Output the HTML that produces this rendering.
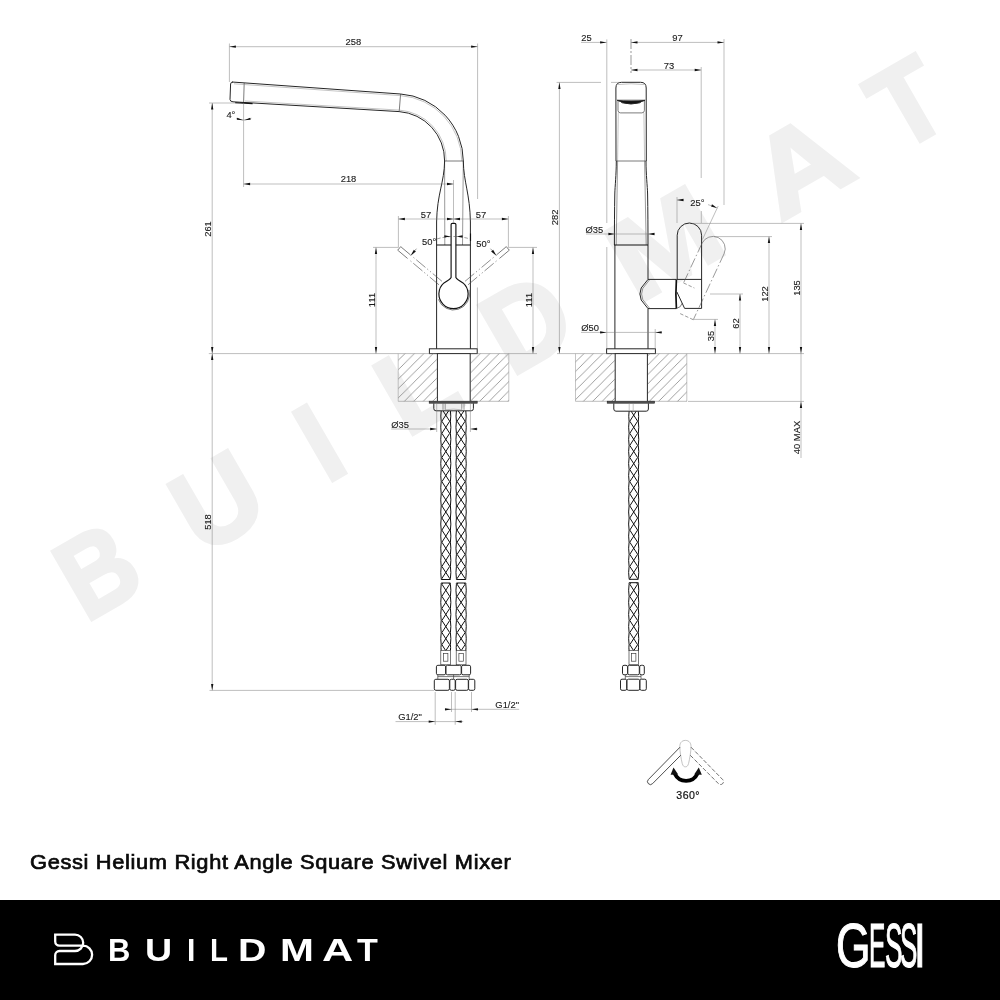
<!DOCTYPE html>
<html lang="en"><head><meta charset="utf-8"><title>Gessi Helium Right Angle Square Swivel Mixer</title>
<style>
html,body{margin:0;padding:0;background:#fff;}
body{width:1000px;height:1000px;position:relative;overflow:hidden;font-family:"Liberation Sans",sans-serif;}
svg{position:absolute;left:0;top:0;will-change:transform;}
.o{fill:none;stroke:#262626;stroke-width:1.0;}
.o2{fill:none;stroke:#333;stroke-width:0.65;}
.ok{fill:none;stroke:#111;stroke-width:1.15;stroke-linejoin:round;}
.t{fill:none;stroke:#7c7c7c;stroke-width:0.5;}
.t2{fill:none;stroke:#8a8a8a;stroke-width:0.5;}
.t3{fill:none;stroke:#555;stroke-width:0.6;}
.ph{fill:none;stroke:#444;stroke-width:0.6;stroke-dasharray:12 2.4 1.2 2.4 1.2 2.4;}
.ph2{fill:none;stroke:#555;stroke-width:0.6;stroke-dasharray:10 2.5 1.5 2.5;}
.dsh{fill:none;stroke:#555;stroke-width:0.6;stroke-dasharray:3.5 2;}
.dot{fill:none;stroke:#888;stroke-width:0.5;stroke-dasharray:1 1.2;}
.cl{fill:none;stroke:#555;stroke-width:0.6;stroke-dasharray:10 2 2 2;}
.a{fill:#111;stroke:none;}
.br{fill:none;stroke:#111;stroke-width:1.0;stroke-linejoin:round;}
.d{font-family:"Liberation Sans",sans-serif;font-size:9.4px;fill:#1a1a1a;stroke:#1a1a1a;stroke-width:0.12;}
.d2{font-family:"Liberation Sans",sans-serif;font-size:10.6px;fill:#111;letter-spacing:0.45px;stroke:#111;stroke-width:0.2;}
.wm text{font-family:"Liberation Sans",sans-serif;font-weight:bold;font-size:100px;fill:#f0f0f0;stroke:#f0f0f0;stroke-width:3.5;stroke-linejoin:miter;}
.ic{fill:none;stroke:#222;stroke-width:0.8;}
.ic2{fill:none;stroke:#aaa;stroke-width:0.7;}
.icd{fill:none;stroke:#333;stroke-width:0.7;stroke-dasharray:4.2 1.8;}
.thick{fill:none;stroke:#000;stroke-width:3.8;}
.title{will-change:transform;position:absolute;left:29.6px;top:850.2px;font-size:20.6px;line-height:23px;letter-spacing:0.62px;color:#0a0a0a;-webkit-text-stroke:0.7px #0a0a0a;white-space:nowrap;transform-origin:0 0;transform:scaleX(1.06);}
.footer{position:absolute;left:0;top:900px;width:1000px;height:100px;background:#000;}

.bm,.gs{will-change:transform;position:absolute;white-space:nowrap;color:#fff;line-height:1;font-family:"Liberation Sans",sans-serif;}
.bm span,.gs span{display:inline-block;transform-origin:0 50%;}
.bm{top:35.0px;font-size:30.5px;font-weight:bold;}
.gs{top:13.5px;font-size:63.4px;-webkit-text-stroke:1.2px #fff;}
</style></head><body>
<svg width="1000" height="900" viewBox="0 0 1000 900">
<defs>
<pattern id="hatch" patternUnits="userSpaceOnUse" width="9.42" height="9.42" patternTransform="translate(398.2 350.9)">
<path d="M-1,10.42 L10.42,-1 M-1,1 L1,-1 M8.42,10.42 L10.42,8.42" stroke="#777" stroke-width="0.7" fill="none"/></pattern>
</defs>
<g transform="translate(91.5,621.8) rotate(-30)" class="wm">
<text transform="translate(-5.23,-1.99) scale(0.997,1.138)" x="0" y="0">B</text>
<text transform="translate(128.27,-1.99) scale(1.135,1.138)" x="0" y="0">U</text>
<text transform="translate(272.70,-1.99) scale(1.029,1.138)" x="0" y="0">I</text>
<text transform="translate(364.83,-1.99) scale(1.138,1.138)" x="0" y="0">L</text>
<text transform="translate(486.14,-1.99) scale(1.116,1.138)" x="0" y="0">D</text>
<text transform="translate(631.71,-1.99) scale(1.293,1.138)" x="0" y="0">M</text>
<text transform="translate(796.72,-1.99) scale(1.263,1.138)" x="0" y="0">A</text>
<text transform="translate(933.40,-1.99) scale(1.067,1.138)" x="0" y="0">T</text>
</g>
<path class="o" d="M232,82 L400.6,94 A67.5,67.5 0 0 1 463.3,161 M399.2,111.6 A49,49 0 0 1 444.6,161 M399.2,111.6 L233,101.8 Q230,101.6 230,99.5 L230.6,84 Q230.8,81.9 233,82.05" />
<path class="o2" d="M400.6,94 L399.2,111.6" />
<path class="o2" d="M244.2,83 L243.6,102.4" />
<path class="t2" d="M234,83.8 L400.4,95.6 A66,66 0 0 1 461.8,161" />
<path class="t2" d="M245,101 L399.3,110.1 A50.5,50.5 0 0 1 446.2,161" />
<path class="ok" d="M235.2,102.6 L252.6,103.6" />
<path class="o2" d="M444.6,161 L463.3,161" />
<path class="t3" d="M444.6,161 L444.8,245 M463.3,161 L462.5,245" />
<path class="o" d="M444.6,161 C444.4,182 437,194 436.6,222 L436.6,349 M463.3,161 C463.6,182 470,194 470.4,222 L470.4,349" />
<path class="ok" d="M436.6,245 L470.4,245" />
<path class="ok" d="M451.1,277.6 L451.1,224.6 Q451.1,223.3 452.4,223.3 L454.6,223.3 Q455.9,223.3 455.9,224.6 L455.9,277.6 Q457,279.8 463,282.9 A14.6,14.6 0 1 1 444,282.9 Q450,279.8 451.1,277.6 Z" style="fill:#fff"/>
<path class="o2" d="M468.95,289.86 A16,16 0 0 1 438.46,299.47" />
<line class="ph" x1="439.00" y1="284.83" x2="409.12" y2="259.77" />
<line class="o2" x1="407.59" y1="258.48" x2="398.78" y2="251.09" />
<line class="ph" x1="441.96" y1="281.31" x2="412.08" y2="256.24" />
<line class="o2" x1="410.55" y1="254.96" x2="401.74" y2="247.56" />
<path class="o2" d="M398.78,251.09 L397.71,250.19 L400.67,246.66 L401.74,247.56" />
<line class="ph" x1="465.04" y1="281.31" x2="494.92" y2="256.24" />
<line class="o2" x1="496.45" y1="254.96" x2="505.26" y2="247.56" />
<line class="ph" x1="468.00" y1="284.83" x2="497.88" y2="259.77" />
<line class="o2" x1="499.41" y1="258.48" x2="508.22" y2="251.09" />
<path class="o2" d="M505.26,247.56 L506.33,246.66 L509.29,250.19 L508.22,251.09" />
<path class="dsh" d="M437.17,238.87 A57.5,57.5 0 0 1 469.83,238.87" />
<polygon class="a" points="410.37,255.97 413.87,249.78 415.86,251.45"/>
<line class="t3" x1="414.87" y1="250.61" x2="416.48" y2="248.70" />
<polygon class="a" points="496.63,255.97 491.14,251.45 493.13,249.78"/>
<line class="t3" x1="492.13" y1="250.61" x2="490.52" y2="248.70" />
<polygon class="a" points="450.89,236.56 444.35,237.53 444.44,235.13"/>
<polygon class="a" points="456.11,236.56 462.56,235.13 462.65,237.53"/>
<path class="ok" d="M470.5,233.5 L470.5,241" />
<rect class="o" x="429.4" y="348.8" width="47.8" height="4.8" style="fill:#fff"/>
<rect x="398.2" y="353.6" width="38.60000000000002" height="47.69999999999999" fill="url(#hatch)"/>
<rect x="470.6" y="353.6" width="38.19999999999999" height="47.69999999999999" fill="url(#hatch)"/>
<line class="t2" x1="398.20" y1="353.60" x2="398.20" y2="401.30" />
<line class="t2" x1="508.80" y1="353.60" x2="508.80" y2="401.30" />
<line class="t" x1="398.20" y1="401.30" x2="436.80" y2="401.30" />
<line class="t" x1="470.60" y1="401.30" x2="508.80" y2="401.30" />
<line class="t" x1="398.20" y1="353.60" x2="436.80" y2="353.60" />
<line class="t" x1="470.60" y1="353.60" x2="508.80" y2="353.60" />
<path class="o" d="M437.4,353.6 L437.4,401.3 M470.2,353.6 L470.2,401.3" />
<rect x="429.2" y="401.2" width="48" height="2" fill="#555" stroke="#222" stroke-width="0.6"/>
<path class="o" d="M433.8,403.4 L433.8,408.6 Q433.8,410.8 436,410.8 L471.2,410.8 Q473.4,410.8 473.4,408.6 L473.4,403.4" />
<path class="t3" d="M443,403.4 V409.8 M445.2,403.4 V409.8 M461.8,403.4 V409.8 M464,403.4 V409.8" />
<path class="t2" d="M445.2,409.8 Q453.5,408.4 461.8,409.8" />
<polyline class="br" points="448.48,411.00 441.90,421.20 449.70,433.30 441.90,445.40 449.70,457.50 441.90,469.60 449.70,481.70 441.90,493.80 449.70,505.90 441.90,518.00 449.70,530.10 441.90,542.20 449.70,554.30 441.90,566.40 449.70,578.50 449.06,579.50"/>
<polyline class="br" points="443.12,411.00 449.70,421.20 441.90,433.30 449.70,445.40 441.90,457.50 449.70,469.60 441.90,481.70 449.70,493.80 441.90,505.90 449.70,518.00 441.90,530.10 449.70,542.20 441.90,554.30 449.70,566.40 441.90,578.50 442.54,579.50"/>
<path class="br" d="M441.20,411.00 Q440.44,416.10 441.20,421.20 Q440.30,427.25 441.20,433.30 Q440.30,439.35 441.20,445.40 Q440.30,451.45 441.20,457.50 Q440.30,463.55 441.20,469.60 Q440.30,475.65 441.20,481.70 Q440.30,487.75 441.20,493.80 Q440.30,499.85 441.20,505.90 Q440.30,511.95 441.20,518.00 Q440.30,524.05 441.20,530.10 Q440.30,536.15 441.20,542.20 Q440.30,548.25 441.20,554.30 Q440.30,560.35 441.20,566.40 Q440.30,572.45 441.20,578.50 Q441.13,579.00 441.20,579.50"/>
<path class="br" d="M450.40,411.00 Q451.16,416.10 450.40,421.20 Q451.30,427.25 450.40,433.30 Q451.30,439.35 450.40,445.40 Q451.30,451.45 450.40,457.50 Q451.30,463.55 450.40,469.60 Q451.30,475.65 450.40,481.70 Q451.30,487.75 450.40,493.80 Q451.30,499.85 450.40,505.90 Q451.30,511.95 450.40,518.00 Q451.30,524.05 450.40,530.10 Q451.30,536.15 450.40,542.20 Q451.30,548.25 450.40,554.30 Q451.30,560.35 450.40,566.40 Q451.30,572.45 450.40,578.50 Q450.47,579.00 450.40,579.50"/>
<polyline class="br" points="448.93,583.00 449.70,584.20 441.90,596.30 449.70,608.40 441.90,620.50 449.70,632.60 441.90,644.70 445.70,650.60"/>
<polyline class="br" points="442.67,583.00 441.90,584.20 449.70,596.30 441.90,608.40 449.70,620.50 441.90,632.60 449.70,644.70 445.90,650.60"/>
<path class="br" d="M441.20,583.00 Q441.11,583.60 441.20,584.20 Q440.30,590.25 441.20,596.30 Q440.30,602.35 441.20,608.40 Q440.30,614.45 441.20,620.50 Q440.30,626.55 441.20,632.60 Q440.30,638.65 441.20,644.70 Q440.76,647.65 441.20,650.60"/>
<path class="br" d="M450.40,583.00 Q450.49,583.60 450.40,584.20 Q451.30,590.25 450.40,596.30 Q451.30,602.35 450.40,608.40 Q451.30,614.45 450.40,620.50 Q451.30,626.55 450.40,632.60 Q451.30,638.65 450.40,644.70 Q450.84,647.65 450.40,650.60"/>
<line class="br" x1="441.20" y1="579.50" x2="450.40" y2="579.50" />
<line class="br" x1="441.20" y1="583.00" x2="450.40" y2="583.00" />
<polyline class="br" points="463.84,411.00 457.10,421.20 465.10,433.30 457.10,445.40 465.10,457.50 457.10,469.60 465.10,481.70 457.10,493.80 465.10,505.90 457.10,518.00 465.10,530.10 457.10,542.20 465.10,554.30 457.10,566.40 465.10,578.50 464.44,579.50"/>
<polyline class="br" points="458.36,411.00 465.10,421.20 457.10,433.30 465.10,445.40 457.10,457.50 465.10,469.60 457.10,481.70 465.10,493.80 457.10,505.90 465.10,518.00 457.10,530.10 465.10,542.20 457.10,554.30 465.10,566.40 457.10,578.50 457.76,579.50"/>
<path class="br" d="M456.40,411.00 Q455.64,416.10 456.40,421.20 Q455.50,427.25 456.40,433.30 Q455.50,439.35 456.40,445.40 Q455.50,451.45 456.40,457.50 Q455.50,463.55 456.40,469.60 Q455.50,475.65 456.40,481.70 Q455.50,487.75 456.40,493.80 Q455.50,499.85 456.40,505.90 Q455.50,511.95 456.40,518.00 Q455.50,524.05 456.40,530.10 Q455.50,536.15 456.40,542.20 Q455.50,548.25 456.40,554.30 Q455.50,560.35 456.40,566.40 Q455.50,572.45 456.40,578.50 Q456.33,579.00 456.40,579.50"/>
<path class="br" d="M465.80,411.00 Q466.56,416.10 465.80,421.20 Q466.70,427.25 465.80,433.30 Q466.70,439.35 465.80,445.40 Q466.70,451.45 465.80,457.50 Q466.70,463.55 465.80,469.60 Q466.70,475.65 465.80,481.70 Q466.70,487.75 465.80,493.80 Q466.70,499.85 465.80,505.90 Q466.70,511.95 465.80,518.00 Q466.70,524.05 465.80,530.10 Q466.70,536.15 465.80,542.20 Q466.70,548.25 465.80,554.30 Q466.70,560.35 465.80,566.40 Q466.70,572.45 465.80,578.50 Q465.87,579.00 465.80,579.50"/>
<polyline class="br" points="464.31,583.00 465.10,584.20 457.10,596.30 465.10,608.40 457.10,620.50 465.10,632.60 457.10,644.70 461.00,650.60"/>
<polyline class="br" points="457.89,583.00 457.10,584.20 465.10,596.30 457.10,608.40 465.10,620.50 457.10,632.60 465.10,644.70 461.20,650.60"/>
<path class="br" d="M456.40,583.00 Q456.31,583.60 456.40,584.20 Q455.50,590.25 456.40,596.30 Q455.50,602.35 456.40,608.40 Q455.50,614.45 456.40,620.50 Q455.50,626.55 456.40,632.60 Q455.50,638.65 456.40,644.70 Q455.96,647.65 456.40,650.60"/>
<path class="br" d="M465.80,583.00 Q465.89,583.60 465.80,584.20 Q466.70,590.25 465.80,596.30 Q466.70,602.35 465.80,608.40 Q466.70,614.45 465.80,620.50 Q466.70,626.55 465.80,632.60 Q466.70,638.65 465.80,644.70 Q466.24,647.65 465.80,650.60"/>
<line class="br" x1="456.40" y1="579.50" x2="465.80" y2="579.50" />
<line class="br" x1="456.40" y1="583.00" x2="465.80" y2="583.00" />
<rect class="o2" x="440.8" y="650.6" width="9.80" height="14.20" style="fill:#fff"/>
<rect class="o2" x="443.50" y="653.6" width="4.4" height="7.60" fill="none"/>
<rect class="o2" x="456.2" y="650.6" width="9.80" height="14.20" style="fill:#fff"/>
<rect class="o2" x="458.90" y="653.6" width="4.4" height="7.60" fill="none"/>
<rect class="o" x="436.40" y="665.30" width="9.20" height="9.50" rx="1.5" style="fill:#fff"/>
<rect class="o" x="446.00" y="665.30" width="15.20" height="9.50" rx="1.5" style="fill:#fff"/>
<rect class="o" x="461.60" y="665.30" width="9.00" height="9.50" rx="1.5" style="fill:#fff"/>
<path class="o2" d="M437.8,674.8 V679.2 M469.2,674.8 V679.2 M437.8,676.6 H469.2 M453.6,674.8 V679.2" />
<rect class="o" x="434.30" y="679.30" width="15.10" height="11.00" rx="1.5" style="fill:#fff"/>
<rect class="o" x="449.80" y="679.30" width="5.40" height="11.00" rx="1.5" style="fill:#fff"/>
<rect class="o" x="455.60" y="679.30" width="12.70" height="11.00" rx="1.5" style="fill:#fff"/>
<rect class="o" x="468.60" y="679.30" width="6.20" height="11.00" rx="1.5" style="fill:#fff"/>
<line class="t" x1="229.40" y1="46.70" x2="477.60" y2="46.70" />
<polygon class="a" points="229.40,46.70 235.90,45.55 235.90,47.85"/>
<polygon class="a" points="477.60,46.70 471.10,47.85 471.10,45.55"/>
<text class="d" x="353.40" y="45.00" text-anchor="middle" >258</text>
<line class="t" x1="229.40" y1="43.50" x2="229.40" y2="82.00" />
<line class="t" x1="477.60" y1="43.50" x2="477.60" y2="199.00" />
<line class="t" x1="477.40" y1="287.50" x2="477.40" y2="349.00" />
<line class="t" x1="243.60" y1="103.00" x2="243.60" y2="187.00" />
<line class="t" x1="243.60" y1="184.00" x2="453.50" y2="184.00" />
<polygon class="a" points="243.60,184.00 250.10,182.85 250.10,185.15"/>
<polygon class="a" points="453.50,184.00 447.00,185.15 447.00,182.85"/>
<text class="d" x="348.50" y="182.40" text-anchor="middle" >218</text>
<line class="t" x1="453.50" y1="180.00" x2="453.50" y2="223.00" />
<line class="t" x1="209.00" y1="103.00" x2="240.00" y2="103.00" />
<line class="t" x1="212.20" y1="103.00" x2="212.20" y2="353.60" />
<polygon class="a" points="212.20,103.00 213.35,109.50 211.05,109.50"/>
<polygon class="a" points="212.20,353.60 211.05,347.10 213.35,347.10"/>
<line class="t" x1="212.20" y1="353.60" x2="212.20" y2="690.40" />
<polygon class="a" points="212.20,353.60 213.35,360.10 211.05,360.10"/>
<polygon class="a" points="212.20,690.40 211.05,683.90 213.35,683.90"/>
<text class="d" x="210.60" y="229.00" text-anchor="middle" transform="rotate(-90 210.60 229.00)" >261</text>
<text class="d" x="210.80" y="522.00" text-anchor="middle" transform="rotate(-90 210.80 522.00)" >518</text>
<line class="t" x1="208.80" y1="353.60" x2="398.20" y2="353.60" />
<line class="t" x1="508.80" y1="353.60" x2="537.00" y2="353.60" />
<line class="t" x1="209.50" y1="690.40" x2="434.00" y2="690.40" />
<path class="t" d="M236,118.2 Q243.7,121.6 251.4,118.2" />
<polygon class="a" points="243.30,120.30 236.73,119.79 237.26,117.66"/>
<polygon class="a" points="244.10,120.30 250.14,117.66 250.67,119.79"/>
<text class="d" x="230.90" y="118.20" text-anchor="middle" >4°</text>
<line class="t" x1="398.40" y1="219.00" x2="508.40" y2="219.00" />
<polygon class="a" points="398.40,219.00 404.90,217.85 404.90,220.15"/>
<polygon class="a" points="508.40,219.00 501.90,220.15 501.90,217.85"/>
<polygon class="a" points="453.50,219.00 447.00,220.15 447.00,217.85"/>
<polygon class="a" points="453.50,219.00 460.00,217.85 460.00,220.15"/>
<text class="d" x="426.00" y="217.60" text-anchor="middle" >57</text>
<text class="d" x="481.00" y="217.60" text-anchor="middle" >57</text>
<line class="t" x1="398.40" y1="216.00" x2="398.40" y2="247.40" />
<line class="t" x1="508.40" y1="216.00" x2="508.40" y2="247.40" />
<line class="t" x1="373.00" y1="247.40" x2="398.40" y2="247.40" />
<line class="t" x1="508.40" y1="247.40" x2="537.00" y2="247.40" />
<line class="t" x1="376.00" y1="247.40" x2="376.00" y2="353.60" />
<polygon class="a" points="376.00,247.40 377.15,253.90 374.85,253.90"/>
<polygon class="a" points="376.00,353.60 374.85,347.10 377.15,347.10"/>
<line class="t" x1="533.00" y1="247.40" x2="533.00" y2="353.60" />
<polygon class="a" points="533.00,247.40 534.15,253.90 531.85,253.90"/>
<polygon class="a" points="533.00,353.60 531.85,347.10 534.15,347.10"/>
<text class="d" x="374.80" y="300.00" text-anchor="middle" transform="rotate(-90 374.80 300.00)" >111</text>
<text class="d" x="531.80" y="300.00" text-anchor="middle" transform="rotate(-90 531.80 300.00)" >111</text>
<text class="d" x="429.20" y="245.40" text-anchor="middle" >50°</text>
<text class="d" x="483.30" y="247.00" text-anchor="middle" >50°</text>
<line class="t" x1="391.20" y1="429.00" x2="436.70" y2="429.00" />
<polygon class="a" points="436.70,429.00 430.20,430.15 430.20,427.85"/>
<line class="t" x1="470.40" y1="429.00" x2="478.00" y2="429.00" />
<polygon class="a" points="470.40,429.00 476.90,427.85 476.90,430.15"/>
<line class="t" x1="436.70" y1="404.00" x2="436.70" y2="432.00" />
<line class="t" x1="470.40" y1="404.00" x2="470.40" y2="432.00" />
<text class="d" x="400.20" y="428.20" text-anchor="middle" >Ø35</text>
<line class="t" x1="435.20" y1="692.00" x2="435.20" y2="724.80" />
<line class="t" x1="451.50" y1="692.00" x2="451.50" y2="712.00" />
<line class="t" x1="455.20" y1="692.00" x2="455.20" y2="724.80" />
<line class="t" x1="471.50" y1="692.00" x2="471.50" y2="712.00" />
<line class="t" x1="444.80" y1="709.30" x2="519.20" y2="709.30" />
<polygon class="a" points="451.50,709.30 445.00,710.45 445.00,708.15"/>
<polygon class="a" points="471.50,709.30 478.00,708.15 478.00,710.45"/>
<line class="t" x1="395.50" y1="721.60" x2="463.20" y2="721.60" />
<polygon class="a" points="435.20,721.60 428.70,722.75 428.70,720.45"/>
<polygon class="a" points="455.20,721.60 461.70,720.45 461.70,722.75"/>
<text class="d" x="507.20" y="708.20" text-anchor="middle" >G1/2"</text>
<text class="d" x="410.00" y="720.20" text-anchor="middle" >G1/2"</text>
<path class="o" d="M616,161 L615.9,88 Q615.9,82.3 621.5,82.3 L640.6,82.3 Q646.2,82.3 646.2,88 L646.3,161" />
<path class="t2" d="M618,84.6 Q631,82.9 644.2,84.6" />
<path class="t2" d="M616.6,99.7 L645.6,99.7" />
<path class="o" d="M617.2,100.4 Q620.5,101 622.4,102.8 Q631,105.2 639.6,102.8 Q641.5,101 645,100.4 Q640,100.9 631,100.9 Q622,100.9 617.2,100.4 Z" style="fill:#111"/>
<path class="o2" d="M618,101 L618,110.4 Q618,112.9 620.5,112.9 L641.8,112.9 Q644.4,112.9 644.4,110.4 L644.4,101" />
<path class="t2" d="M618.3,113 L617.6,161 M643.9,113 L644.6,161" />
<path class="o2" d="M616,161 L646.3,161" />
<path class="o" d="M616.3,161 C616.3,175 615,186 614.8,194 C614.5,210 614.4,230 614.4,245 L614.9,245 L614.9,349 M646,161 C646,175 647.4,186 647.6,194 C647.9,210 648,230 648,245 L648,279.4" />
<path class="t3" d="M617.6,161 L616.2,245 M644.6,161 L646.2,245" />
<path class="ok" d="M614.4,245 L648,245" />
<path class="o" d="M648,308.6 L648,349" />
<path class="o" d="M648,279.4 L676.4,279.4 M648,308.6 L676.4,308.6 M648,279.4 L641.2,288 Q638.6,294 641.2,300 L648,308.6" />
<path class="t3" d="M649.7,279.6 L642.8,288.4 Q640.4,294 642.8,299.6 L649.7,308.4" />
<path class="ok" d="M676.4,279.4 Q675.4,294 676.4,308.6" style="stroke-width:1.7"/>
<path class="o" d="M677.2,279.4 L677.2,235.2 A12.2,12.2 0 0 1 701.6,235.2 L701.6,308.4 L684.6,308.4 L676.9,292" />
<path class="o" d="M677,279.4 L701.6,279.4" />
<path class="o2" d="M676.6,308.4 Q681,307.6 682.2,303.2" />
<path class="t3" d="M701.95,243.44 A12.2,12.2 0 0 1 724.07,253.75" />
<line class="ph2" x1="724.07" y1="253.75" x2="693.30" y2="319.73" />
<line class="ph2" x1="701.95" y1="243.44" x2="683.53" y2="282.95" />
<line class="dsh" x1="693.30" y1="319.73" x2="678.44" y2="312.80" />
<line class="dsh" x1="683.53" y1="282.95" x2="694.40" y2="288.02" />
<rect class="o" x="606.6" y="348.8" width="48.8" height="4.8" style="fill:#fff"/>
<rect x="575.5" y="353.6" width="39.299999999999955" height="47.69999999999999" fill="url(#hatch)"/>
<rect x="647.8" y="353.6" width="39.0" height="47.69999999999999" fill="url(#hatch)"/>
<line class="t2" x1="575.50" y1="353.60" x2="575.50" y2="401.30" />
<line class="t2" x1="686.80" y1="353.60" x2="686.80" y2="401.30" />
<line class="t" x1="575.50" y1="401.30" x2="614.80" y2="401.30" />
<line class="t" x1="647.80" y1="401.30" x2="686.80" y2="401.30" />
<line class="t" x1="575.50" y1="353.60" x2="614.80" y2="353.60" />
<line class="t" x1="647.80" y1="353.60" x2="686.80" y2="353.60" />
<path class="o" d="M615.2,353.6 V401.3 M647.4,353.6 V401.3" />
<rect x="607.2" y="401.2" width="47.4" height="2" fill="#555" stroke="#222" stroke-width="0.6"/>
<path class="o" d="M613.8,403.4 L613.8,409 Q613.8,411.2 616,411.2 L646.2,411.2 Q648.4,411.2 648.4,409 L648.4,403.4" />
<path class="t2" d="M629.2,403.4 V410.4 M633.2,403.4 V410.4" />
<polyline class="br" points="636.12,411.40 629.80,421.20 637.60,433.30 629.80,445.40 637.60,457.50 629.80,469.60 637.60,481.70 629.80,493.80 637.60,505.90 629.80,518.00 637.60,530.10 629.80,542.20 637.60,554.30 629.80,566.40 637.60,578.50 637.08,579.30"/>
<polyline class="br" points="631.28,411.40 637.60,421.20 629.80,433.30 637.60,445.40 629.80,457.50 637.60,469.60 629.80,481.70 637.60,493.80 629.80,505.90 637.60,518.00 629.80,530.10 637.60,542.20 629.80,554.30 637.60,566.40 629.80,578.50 630.32,579.30"/>
<path class="br" d="M629.10,411.40 Q628.37,416.30 629.10,421.20 Q628.20,427.25 629.10,433.30 Q628.20,439.35 629.10,445.40 Q628.20,451.45 629.10,457.50 Q628.20,463.55 629.10,469.60 Q628.20,475.65 629.10,481.70 Q628.20,487.75 629.10,493.80 Q628.20,499.85 629.10,505.90 Q628.20,511.95 629.10,518.00 Q628.20,524.05 629.10,530.10 Q628.20,536.15 629.10,542.20 Q628.20,548.25 629.10,554.30 Q628.20,560.35 629.10,566.40 Q628.20,572.45 629.10,578.50 Q629.04,578.90 629.10,579.30"/>
<path class="br" d="M638.30,411.40 Q639.03,416.30 638.30,421.20 Q639.20,427.25 638.30,433.30 Q639.20,439.35 638.30,445.40 Q639.20,451.45 638.30,457.50 Q639.20,463.55 638.30,469.60 Q639.20,475.65 638.30,481.70 Q639.20,487.75 638.30,493.80 Q639.20,499.85 638.30,505.90 Q639.20,511.95 638.30,518.00 Q639.20,524.05 638.30,530.10 Q639.20,536.15 638.30,542.20 Q639.20,548.25 638.30,554.30 Q639.20,560.35 638.30,566.40 Q639.20,572.45 638.30,578.50 Q638.36,578.90 638.30,579.30"/>
<polyline class="br" points="636.63,582.70 637.60,584.20 629.80,596.30 637.60,608.40 629.80,620.50 637.60,632.60 629.80,644.70 633.73,650.80"/>
<polyline class="br" points="630.77,582.70 629.80,584.20 637.60,596.30 629.80,608.40 637.60,620.50 629.80,632.60 637.60,644.70 633.67,650.80"/>
<path class="br" d="M629.10,582.70 Q628.99,583.45 629.10,584.20 Q628.20,590.25 629.10,596.30 Q628.20,602.35 629.10,608.40 Q628.20,614.45 629.10,620.50 Q628.20,626.55 629.10,632.60 Q628.20,638.65 629.10,644.70 Q628.65,647.75 629.10,650.80"/>
<path class="br" d="M638.30,582.70 Q638.41,583.45 638.30,584.20 Q639.20,590.25 638.30,596.30 Q639.20,602.35 638.30,608.40 Q639.20,614.45 638.30,620.50 Q639.20,626.55 638.30,632.60 Q639.20,638.65 638.30,644.70 Q638.75,647.75 638.30,650.80"/>
<line class="br" x1="629.10" y1="579.30" x2="638.30" y2="579.30" />
<line class="br" x1="629.10" y1="582.70" x2="638.30" y2="582.70" />
<rect class="o2" x="629" y="650.6" width="9.40" height="14.20" style="fill:#fff"/>
<rect class="o2" x="631.50" y="653.6" width="4.4" height="7.60" fill="none"/>
<rect class="o" x="622.50" y="665.30" width="5.00" height="9.50" rx="1.5" style="fill:#fff"/>
<rect class="o" x="627.80" y="665.30" width="11.50" height="9.50" rx="1.5" style="fill:#fff"/>
<rect class="o" x="639.70" y="665.30" width="4.60" height="9.50" rx="1.5" style="fill:#fff"/>
<path class="o2" d="M625.3,674.8 V679.2 M641,674.8 V679.2 M625.3,676.6 H641" />
<rect class="o" x="620.50" y="679.20" width="6.20" height="11.10" rx="1.5" style="fill:#fff"/>
<rect class="o" x="627.00" y="679.20" width="12.70" height="11.10" rx="1.5" style="fill:#fff"/>
<rect class="o" x="640.00" y="679.20" width="6.30" height="11.10" rx="1.5" style="fill:#fff"/>
<line class="t" x1="581.00" y1="42.40" x2="606.60" y2="42.40" />
<polygon class="a" points="606.60,42.40 600.10,43.55 600.10,41.25"/>
<text class="d" x="586.40" y="41.20" text-anchor="middle" >25</text>
<line class="t" x1="606.80" y1="39.40" x2="606.80" y2="223.00" />
<line class="t" x1="606.80" y1="247.00" x2="606.80" y2="349.00" />
<line class="t" x1="631.00" y1="42.40" x2="724.00" y2="42.40" />
<polygon class="a" points="631.00,42.40 637.50,41.25 637.50,43.55"/>
<polygon class="a" points="724.00,42.40 717.50,43.55 717.50,41.25"/>
<text class="d" x="677.40" y="41.20" text-anchor="middle" >97</text>
<line class="cl" x1="631.00" y1="39.00" x2="631.00" y2="73.00" />
<line class="t" x1="631.00" y1="70.00" x2="701.20" y2="70.00" />
<polygon class="a" points="631.00,70.00 637.50,68.85 637.50,71.15"/>
<polygon class="a" points="701.20,70.00 694.70,71.15 694.70,68.85"/>
<text class="d" x="669.00" y="68.80" text-anchor="middle" >73</text>
<line class="t" x1="701.20" y1="67.00" x2="701.20" y2="178.00" />
<line class="t" x1="724.00" y1="39.00" x2="724.00" y2="205.00" />
<line class="t" x1="701.30" y1="211.00" x2="701.30" y2="223.00" />
<line class="t" x1="559.40" y1="82.40" x2="559.40" y2="353.60" />
<polygon class="a" points="559.40,82.40 560.55,88.90 558.25,88.90"/>
<polygon class="a" points="559.40,353.60 558.25,347.10 560.55,347.10"/>
<text class="d" x="558.40" y="217.40" text-anchor="middle" transform="rotate(-90 558.40 217.40)" >282</text>
<line class="t" x1="556.60" y1="82.40" x2="601.00" y2="82.40" />
<line class="t" x1="611.00" y1="82.40" x2="620.00" y2="82.40" />
<line class="t" x1="557.00" y1="353.60" x2="575.50" y2="353.60" />
<line class="t" x1="686.80" y1="353.60" x2="804.00" y2="353.60" />
<line class="t" x1="586.00" y1="234.00" x2="614.90" y2="234.00" />
<polygon class="a" points="614.90,234.00 608.40,235.15 608.40,232.85"/>
<line class="t" x1="648.00" y1="234.00" x2="655.00" y2="234.00" />
<polygon class="a" points="648.00,234.00 654.50,232.85 654.50,235.15"/>
<line class="t" x1="614.90" y1="234.00" x2="648.00" y2="234.00" />
<text class="d" x="594.40" y="232.60" text-anchor="middle" >Ø35</text>
<line class="t" x1="581.00" y1="332.40" x2="662.00" y2="332.40" />
<polygon class="a" points="606.60,332.40 600.10,333.55 600.10,331.25"/>
<polygon class="a" points="655.20,332.40 661.70,331.25 661.70,333.55"/>
<line class="t" x1="655.20" y1="329.00" x2="655.20" y2="349.00" />
<text class="d" x="590.00" y="331.40" text-anchor="middle" >Ø50</text>
<line class="t" x1="677.00" y1="197.00" x2="677.00" y2="223.00" />
<line class="t" x1="677.00" y1="200.00" x2="684.00" y2="200.00" />
<polygon class="a" points="677.00,200.00 683.50,198.85 683.50,201.15"/>
<text class="d" x="697.40" y="205.80" text-anchor="middle" >25°</text>
<line class="t" x1="718.20" y1="206.00" x2="702.40" y2="239.60" />
<polygon class="a" points="717.40,208.20 711.00,206.54 712.02,204.37"/>
<line class="t" x1="708.00" y1="204.60" x2="712.00" y2="206.00" />
<line class="t" x1="692.00" y1="223.40" x2="804.00" y2="223.40" />
<line class="t" x1="801.00" y1="223.40" x2="801.00" y2="353.60" />
<polygon class="a" points="801.00,223.40 802.15,229.90 799.85,229.90"/>
<polygon class="a" points="801.00,353.60 799.85,347.10 802.15,347.10"/>
<text class="d" x="799.60" y="288.00" text-anchor="middle" transform="rotate(-90 799.60 288.00)" >135</text>
<line class="t" x1="714.00" y1="236.60" x2="772.00" y2="236.60" />
<line class="t" x1="769.00" y1="236.60" x2="769.00" y2="353.60" />
<polygon class="a" points="769.00,236.60 770.15,243.10 767.85,243.10"/>
<polygon class="a" points="769.00,353.60 767.85,347.10 770.15,347.10"/>
<text class="d" x="767.80" y="294.00" text-anchor="middle" transform="rotate(-90 767.80 294.00)" >122</text>
<line class="t" x1="710.00" y1="294.00" x2="743.00" y2="294.00" />
<line class="t" x1="740.00" y1="294.00" x2="740.00" y2="353.60" />
<polygon class="a" points="740.00,294.00 741.15,300.50 738.85,300.50"/>
<polygon class="a" points="740.00,353.60 738.85,347.10 741.15,347.10"/>
<text class="d" x="738.60" y="323.40" text-anchor="middle" transform="rotate(-90 738.60 323.40)" >62</text>
<line class="t" x1="694.00" y1="319.40" x2="718.00" y2="319.40" />
<line class="t" x1="715.00" y1="319.40" x2="715.00" y2="353.60" />
<polygon class="a" points="715.00,319.40 716.15,325.90 713.85,325.90"/>
<polygon class="a" points="715.00,353.60 713.85,347.10 716.15,347.10"/>
<text class="d" x="713.60" y="336.00" text-anchor="middle" transform="rotate(-90 713.60 336.00)" >35</text>
<line class="t" x1="688.00" y1="401.40" x2="804.00" y2="401.40" />
<line class="t" x1="801.00" y1="353.60" x2="801.00" y2="401.40" />
<line class="t" x1="801.00" y1="401.40" x2="801.00" y2="458.00" />
<polygon class="a" points="801.00,401.40 802.15,407.90 799.85,407.90"/>
<text class="d" x="799.60" y="437.50" text-anchor="middle" transform="rotate(-90 799.60 437.50)" >40 MAX</text>
<path class="ic2" d="M685.4,740.4 C689.4,740.4 691,743.4 691,746.4 C691,752 689.6,759 688.6,763.4 C687.8,766.4 686.6,766.8 685.4,766.8 C684.2,766.8 683,766.4 682.2,763.4 C681.2,759 679.8,752 679.8,746.4 C679.8,743.4 681.4,740.4 685.4,740.4 Z" />
<path class="ic" d="M680,747.2 L648.3,779.6 A2.9,2.9 0 0 0 652.6,783.6 L680.8,755.2" />
<path class="icd" d="M691,747.2 L722.7,779.6 A2.9,2.9 0 0 1 718.4,783.6 L690.2,755.2" />
<path class="thick" d="M674.6,773.5 A12.7,12.7 0 0 0 697.6,773.5" />
<polygon class="a" points="673.5,767.4 678.2,774.4 670.6,774.8"/>
<polygon class="a" points="698.8,767.4 701.8,774.8 694.2,774.4"/>
<text class="d2" x="688.20" y="799.20" text-anchor="middle" >360°</text>
</svg>
<div class="title">Gessi Helium Right Angle Square Swivel Mixer</div>
<div class="footer">
<svg width="1000" height="100" viewBox="0 900 1000 100">
<path d="M55.2,934.6 H75 A8.2,8.2 0 0 1 75,951 H59.4 A4.2,4.2 0 0 0 55.2,955.2 V964 H83 A9.15,9.15 0 0 0 83,945.7 H59.4 A4.2,4.2 0 0 1 55.2,941.5 Z" fill="none" stroke="#fff" stroke-width="2.3" stroke-linejoin="miter"/>
</svg>
<div class="bm" style="left:108.33px"><span style="width:37.42px;transform:scaleX(1.016)">B</span><span style="width:41.55px;transform:scaleX(1.230)">U</span><span style="width:23.14px;transform:scaleX(0.984)">I</span><span style="width:27.80px;transform:scaleX(0.964)">L</span><span style="width:41.90px;transform:scaleX(1.290)">D</span><span style="width:42.05px;transform:scaleX(1.335)">M</span><span style="width:34.85px;transform:scaleX(1.416)">A</span><span style="width:40.00px;transform:scaleX(1.117)">T</span></div>
<div class="gs" style="left:836.40px"><span style="width:32.57px;transform:scaleX(0.700)">G</span><span style="width:16.57px;transform:scaleX(0.387)">E</span><span style="width:14.41px;transform:scaleX(0.412)">S</span><span style="width:14.07px;transform:scaleX(0.410)">S</span><span style="width:40.00px;transform:scaleX(0.663)">I</span></div>
</div>

</body></html>
